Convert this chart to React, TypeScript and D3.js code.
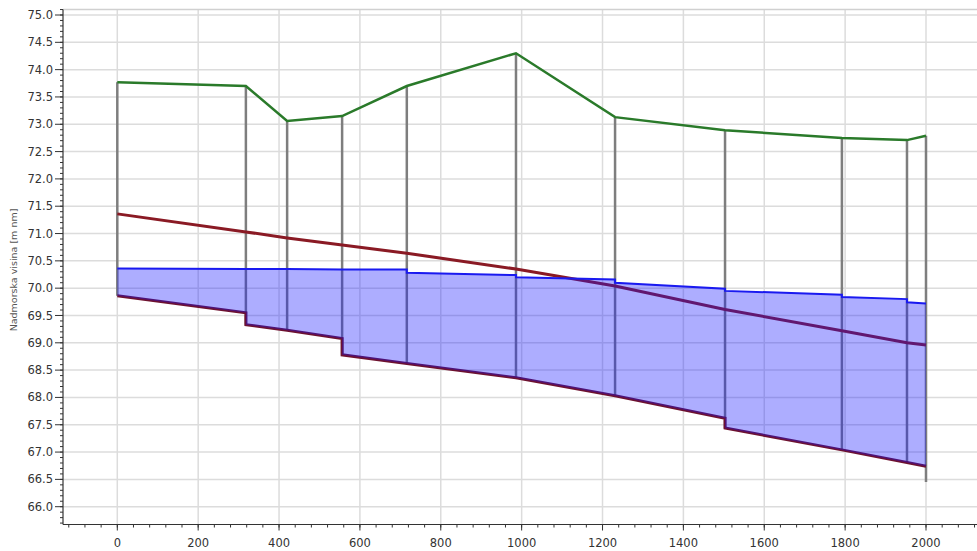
import React from "react";
import * as d3 from "d3";

// Stations (chainage, m)
const STATIONS = [0, 318, 420, 556, 716, 986, 1231, 1503, 1792, 1953, 2000];
// Terrain elevation at stations
const TERRAIN = [73.77, 73.70, 73.06, 73.15, 73.70, 74.30, 73.13, 72.89, 72.75, 72.71, 72.79];
// Energy / grade line at stations
const ENERGY = [71.36, 71.03, 70.92, 70.79, 70.64, 70.35, 70.04, 69.61, 69.22, 69.00, 68.96];
// Water surface per reach (start / end)
const WATER_START = [70.36, 70.35, 70.35, 70.34, 70.28, 70.20, 70.10, 69.95, 69.84, 69.74];
const WATER_END = [70.35, 70.35, 70.34, 70.34, 70.24, 70.16, 69.99, 69.88, 69.80, 69.72];
// Invert per reach (start / end)
const INVERT_START = [69.86, 69.33, 69.23, 68.78, 68.62, 68.36, 68.03, 67.44, 67.04, 66.81];
const INVERT_END = [69.55, 69.23, 69.08, 68.62, 68.36, 68.03, 67.62, 67.04, 66.81, 66.74];
const OUTLET_BOTTOM = 66.45;

const X_TICKS = [0, 200, 400, 600, 800, 1000, 1200, 1400, 1600, 1800, 2000];
const Y_TICKS = [66.0, 66.5, 67.0, 67.5, 68.0, 68.5, 69.0, 69.5, 70.0, 70.5, 71.0, 71.5, 72.0, 72.5, 73.0, 73.5, 74.0, 74.5, 75.0];
const Y_LABEL = "Nadmorska visina [m nm]";

export default function App() {
  const W = 977, H = 551;
  const left = 63, right = 977, top = 9.5, bottom = 524.5;
  const x = d3.scaleLinear().domain([0, 2000]).range([117.3, 926]);
  const y = d3.scaleLinear().domain([66, 75]).range([506.7, 15]);

  const xMinor = d3.range(-120, 2160, 40).filter((v) => x(v) >= left && x(v) <= right);
  const yMinor = d3.range(657, 752, 1).map((v) => v / 10).filter((v) => y(v) <= bottom && y(v) >= top);

  const line = d3.line<[number, number]>().x((d) => x(d[0])).y((d) => y(d[1]));

  const terrainPts = STATIONS.map((s, i) => [s, TERRAIN[i]] as [number, number]);
  const energyPts = STATIONS.map((s, i) => [s, ENERGY[i]] as [number, number]);

  const waterPts: [number, number][] = [];
  const invertPts: [number, number][] = [];
  for (let i = 0; i < STATIONS.length - 1; i++) {
    waterPts.push([STATIONS[i], WATER_START[i]], [STATIONS[i + 1], WATER_END[i]]);
    invertPts.push([STATIONS[i], INVERT_START[i]], [STATIONS[i + 1], INVERT_END[i]]);
  }

  const fillPaths = STATIONS.slice(0, -1).map((s, i) => {
    const s1 = STATIONS[i + 1];
    const a = d3
      .area<[number, number, number]>()
      .x((d) => x(d[0]))
      .y0((d) => y(d[1]))
      .y1((d) => y(d[2]));
    return a([
      [s, INVERT_START[i], WATER_START[i]],
      [s1, INVERT_END[i], WATER_END[i]],
    ]) as string;
  });

  const verticals = STATIONS.map((s, i) => {
    let bot: number;
    if (i === STATIONS.length - 1) bot = OUTLET_BOTTOM;
    else if (i === 0) bot = INVERT_START[0];
    else bot = Math.min(INVERT_END[i - 1], INVERT_START[i]);
    return { s, topV: TERRAIN[i], bot };
  });

  const font = "'DejaVu Sans', Verdana, sans-serif";

  return (
    <svg width={W} height={H} style={{ position: "absolute", left: 0, top: 0, background: "#fff" }}>
      <rect x={0} y={0} width={W} height={H} fill="#fff" />
      {/* grid */}
      {X_TICKS.map((t) => (
        <line key={"gx" + t} x1={x(t)} x2={x(t)} y1={top} y2={bottom} stroke="#dcdcdc" strokeWidth={1.5} />
      ))}
      {Y_TICKS.map((t) => (
        <line key={"gy" + t} x1={left} x2={right} y1={y(t)} y2={y(t)} stroke="#dcdcdc" strokeWidth={1.5} />
      ))}
      <line x1={left} x2={right} y1={top} y2={top} stroke="#d0d0d0" strokeWidth={1.5} />

      {/* gray verticals */}
      {verticals.map((v) => (
        <line key={"v" + v.s} x1={x(v.s)} x2={x(v.s)} y1={y(v.topV)} y2={y(v.bot)} stroke="#7e7e7e" strokeWidth={2.5} />
      ))}

      {/* energy line */}
      <path d={line(energyPts) as string} fill="none" stroke="#8a1a24" strokeWidth={3} />
      {/* invert line */}
      <path d={line(invertPts) as string} fill="none" stroke="#6e1230" strokeWidth={3} />

      {/* water fill */}
      {fillPaths.map((d, i) => (
        <path key={"f" + i} d={d} fill="rgba(20,20,255,0.35)" stroke="none" />
      ))}

      {/* water line */}
      <path d={line(waterPts) as string} fill="none" stroke="#1a1af0" strokeWidth={2} />
      {/* terrain */}
      <path d={line(terrainPts) as string} fill="none" stroke="#2a7a2a" strokeWidth={2.5} />

      {/* axes */}
      <line x1={left} x2={left} y1={top} y2={bottom} stroke="#333" strokeWidth={1.2} />
      <line x1={left} x2={right} y1={bottom} y2={bottom} stroke="#333" strokeWidth={1.2} />
      {Y_TICKS.map((t) => (
        <g key={"yt" + t}>
          <line x1={left - 8} x2={left} y1={y(t)} y2={y(t)} stroke="#333" strokeWidth={1} />
          <text x={53} y={y(t)} dy="0.35em" textAnchor="end" fontFamily={font} fontSize={11.5} fill="#333">
            {t.toFixed(1)}
          </text>
        </g>
      ))}
      {yMinor.map((t) => (
        <line key={"ym" + t} x1={left - 3} x2={left} y1={y(t)} y2={y(t)} stroke="#333" strokeWidth={1} />
      ))}
      {X_TICKS.map((t) => (
        <g key={"xt" + t}>
          <line x1={x(t)} x2={x(t)} y1={bottom} y2={bottom + 6} stroke="#333" strokeWidth={1} />
          <text x={x(t)} y={547} textAnchor="middle" fontFamily={font} fontSize={11.5} fill="#333">
            {t}
          </text>
        </g>
      ))}
      {xMinor.map((t) => (
        <line key={"xm" + t} x1={x(t)} x2={x(t)} y1={bottom} y2={bottom + 3} stroke="#333" strokeWidth={1} />
      ))}
      <text
        transform={`translate(17,270) rotate(-90)`}
        textAnchor="middle"
        fontFamily={font}
        fontSize={9.5}
        fill="#555"
      >
        {Y_LABEL}
      </text>
    </svg>
  );
}
